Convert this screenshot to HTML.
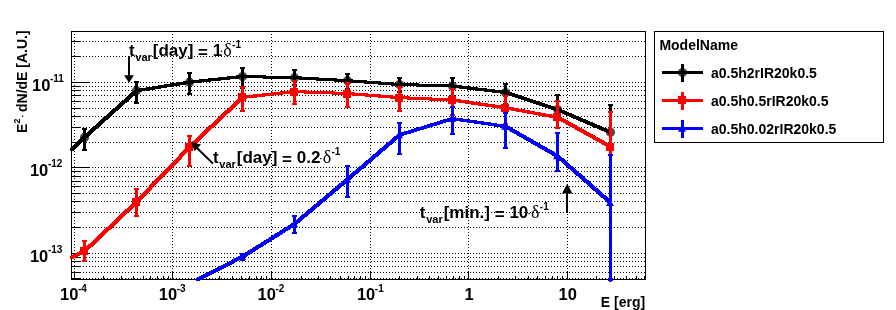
<!DOCTYPE html><html><head><meta charset="utf-8"><style>
html,body{margin:0;padding:0;background:#fff;overflow:hidden}
svg{display:block;will-change:transform;font-family:"Liberation Sans",sans-serif;font-weight:bold;fill:#000;}
.sym{font-family:"Liberation Serif",serif;font-weight:normal;}
</style></head><body>
<svg width="896" height="310" viewBox="0 0 896 310">
<rect width="896" height="310" fill="#fff"/>
<defs><clipPath id="c"><rect x="69.5" y="31.5" width="576.0" height="250.0"/></clipPath></defs>
<path d="M74.5 31.0V279.5M172.5 31.0V279.5M271.5 31.0V279.5M370.5 31.0V279.5M468.5 31.0V279.5M567.5 31.0V279.5M71.0 278.5H645.5M71.0 272.5H645.5M71.0 266.5H645.5M71.0 261.5H645.5M71.0 257.5H645.5M71.0 253.5H645.5M71.0 227.5H645.5M71.0 212.5H645.5M71.0 201.5H645.5M71.0 193.5H645.5M71.0 186.5H645.5M71.0 181.5H645.5M71.0 176.5H645.5M71.0 171.5H645.5M71.0 167.5H645.5M71.0 142.5H645.5M71.0 127.5H645.5M71.0 116.5H645.5M71.0 108.5H645.5M71.0 101.5H645.5M71.0 95.5H645.5M71.0 90.5H645.5M71.0 86.5H645.5M71.0 82.5H645.5M71.0 56.5H645.5M71.0 41.5H645.5" stroke="#000" stroke-width="1" stroke-dasharray="1 2" fill="none" shape-rendering="crispEdges"/>
<path d="M74.5 279.5v-8M103.5 279.5v-4M121.5 279.5v-4M133.5 279.5v-4M143.5 279.5v-4M150.5 279.5v-4M157.5 279.5v-4M163.5 279.5v-4M168.5 279.5v-4M172.5 279.5v-8M202.5 279.5v-4M219.5 279.5v-4M232.5 279.5v-4M241.5 279.5v-4M249.5 279.5v-4M256.5 279.5v-4M261.5 279.5v-4M266.5 279.5v-4M271.5 279.5v-8M301.5 279.5v-4M318.5 279.5v-4M330.5 279.5v-4M340.5 279.5v-4M348.5 279.5v-4M354.5 279.5v-4M360.5 279.5v-4M365.5 279.5v-4M370.5 279.5v-8M399.5 279.5v-4M417.5 279.5v-4M429.5 279.5v-4M438.5 279.5v-4M446.5 279.5v-4M453.5 279.5v-4M459.5 279.5v-4M464.5 279.5v-4M468.5 279.5v-8M498.5 279.5v-4M515.5 279.5v-4M528.5 279.5v-4M537.5 279.5v-4M545.5 279.5v-4M552.5 279.5v-4M557.5 279.5v-4M562.5 279.5v-4M567.5 279.5v-8M596.5 279.5v-4M614.5 279.5v-4M626.5 279.5v-4M636.5 279.5v-4M644.5 279.5v-4M71.0 278.5h10M71.0 272.5h10M71.0 266.5h10M71.0 261.5h10M71.0 257.5h10M71.0 253.5h19M71.0 227.5h10M71.0 212.5h10M71.0 201.5h10M71.0 193.5h10M71.0 186.5h10M71.0 181.5h10M71.0 176.5h10M71.0 171.5h10M71.0 167.5h19M71.0 142.5h10M71.0 127.5h10M71.0 116.5h10M71.0 108.5h10M71.0 101.5h10M71.0 95.5h10M71.0 90.5h10M71.0 86.5h10M71.0 82.5h19M71.0 56.5h10M71.0 41.5h10" stroke="#000" stroke-width="1" fill="none" shape-rendering="crispEdges"/>
<rect x="71.5" y="31.5" width="574.0" height="248.0" fill="none" stroke="#000" stroke-width="1" shape-rendering="crispEdges"/>
<g clip-path="url(#c)"><circle cx="84.5" cy="137.4" r="4.6" fill="#000" fill-opacity="0.7"/><circle cx="136.5" cy="90.7" r="4.6" fill="#000" fill-opacity="0.7"/><circle cx="189.5" cy="82.2" r="4.6" fill="#000" fill-opacity="0.7"/><circle cx="242.5" cy="76.5" r="4.6" fill="#000" fill-opacity="0.7"/><circle cx="294.5" cy="77.7" r="4.6" fill="#000" fill-opacity="0.7"/><circle cx="347.5" cy="80.7" r="4.6" fill="#000" fill-opacity="0.7"/><circle cx="399.5" cy="84.5" r="4.6" fill="#000" fill-opacity="0.7"/><circle cx="452.5" cy="86.0" r="4.6" fill="#000" fill-opacity="0.7"/><circle cx="505.5" cy="92.5" r="4.6" fill="#000" fill-opacity="0.7"/><circle cx="557.5" cy="109.6" r="4.6" fill="#000" fill-opacity="0.7"/><circle cx="610.5" cy="132.3" r="4.6" fill="#000" fill-opacity="0.7"/><path d="M70.0 148.3L83.0 135.9L86.0 135.9L86.0 138.9L73.0 151.3L70.0 151.3zM83.0 135.9L135.0 89.2L138.0 89.2L138.0 92.2L86.0 138.9L83.0 138.9zM135.0 89.2L188.0 80.7L191.0 80.7L191.0 83.7L138.0 92.2L135.0 92.2zM188.0 80.7L241.0 75.0L244.0 75.0L244.0 78.0L191.0 83.7L188.0 83.7zM241.0 75.0L244.0 75.0L296.0 76.2L296.0 79.2L293.0 79.2L241.0 78.0zM293.0 76.2L296.0 76.2L349.0 79.2L349.0 82.2L346.0 82.2L293.0 79.2zM346.0 79.2L349.0 79.2L401.0 83.0L401.0 86.0L398.0 86.0L346.0 82.2zM398.0 83.0L401.0 83.0L454.0 84.5L454.0 87.5L451.0 87.5L398.0 86.0zM451.0 84.5L454.0 84.5L507.0 91.0L507.0 94.0L504.0 94.0L451.0 87.5zM504.0 91.0L507.0 91.0L559.0 108.1L559.0 111.1L556.0 111.1L504.0 94.0zM556.0 108.1L559.0 108.1L612.0 130.8L612.0 133.8L609.0 133.8L556.0 111.1z" fill="#000" shape-rendering="crispEdges"/><path d="M83.0 128h3V151h-3zM82.0 128h5v2h-5zM82.0 149h5v2h-5zM135.0 81h3V104h-3zM134.0 81h5v2h-5zM134.0 102h5v2h-5zM188.0 72h3V95h-3zM187.0 72h5v2h-5zM187.0 93h5v2h-5zM241.0 67h3V89h-3zM240.0 67h5v2h-5zM240.0 87h5v2h-5zM293.0 69h3V86h-3zM292.0 69h5v2h-5zM292.0 84h5v2h-5zM346.0 73h3V90h-3zM345.0 73h5v2h-5zM345.0 88h5v2h-5zM398.0 77h3V93h-3zM397.0 77h5v2h-5zM397.0 91h5v2h-5zM451.0 77h3V97h-3zM450.0 77h5v2h-5zM450.0 95h5v2h-5zM504.0 83h3V105h-3zM503.0 83h5v2h-5zM503.0 103h5v2h-5zM556.0 94h3V119h-3zM555.0 94h5v2h-5zM555.0 117h5v2h-5zM609.0 104h3V301h-3zM608.0 104h5v2h-5zM608.0 299h5v2h-5z" fill="#000" shape-rendering="crispEdges"/></g>
<g clip-path="url(#c)"><path d="M70.0 255.8L83.0 249.7L86.0 249.7L86.0 252.7L73.0 258.8L70.0 258.8zM83.0 249.7L135.0 200.5L138.0 200.5L138.0 203.5L86.0 252.7L83.0 252.7zM135.0 200.5L188.0 145.7L191.0 145.7L191.0 148.7L138.0 203.5L135.0 203.5zM188.0 145.7L241.0 95.9L244.0 95.9L244.0 98.9L191.0 148.7L188.0 148.7zM241.0 95.9L293.0 90.1L296.0 90.1L296.0 93.1L244.0 98.9L241.0 98.9zM293.0 90.1L296.0 90.1L349.0 92.0L349.0 95.0L346.0 95.0L293.0 93.1zM346.0 92.0L349.0 92.0L401.0 96.1L401.0 99.1L398.0 99.1L346.0 95.0zM398.0 96.1L401.0 96.1L454.0 98.5L454.0 101.5L451.0 101.5L398.0 99.1zM451.0 98.5L454.0 98.5L507.0 106.3L507.0 109.3L504.0 109.3L451.0 101.5zM504.0 106.3L507.0 106.3L559.0 115.8L559.0 118.8L556.0 118.8L504.0 109.3zM556.0 115.8L559.0 115.8L612.0 145.1L612.0 148.1L609.0 148.1L556.0 118.8z" fill="#f00" shape-rendering="crispEdges"/><path d="M83.0 240h3V262h-3zM82.0 240h5v2h-5zM82.0 260h5v2h-5zM135.0 188h3V217h-3zM134.0 188h5v2h-5zM134.0 215h5v2h-5zM188.0 135h3V167h-3zM187.0 135h5v2h-5zM187.0 165h5v2h-5zM241.0 86h3V112h-3zM240.0 86h5v2h-5zM240.0 110h5v2h-5zM293.0 80h3V105h-3zM292.0 80h5v2h-5zM292.0 103h5v2h-5zM346.0 82h3V108h-3zM345.0 82h5v2h-5zM345.0 106h5v2h-5zM398.0 86h3V112h-3zM397.0 86h5v2h-5zM397.0 110h5v2h-5zM451.0 88h3V116h-3zM450.0 88h5v2h-5zM450.0 114h5v2h-5zM504.0 95h3V125h-3zM503.0 95h5v2h-5zM503.0 123h5v2h-5zM556.0 100h3V129h-3zM555.0 100h5v2h-5zM555.0 127h5v2h-5zM609.0 111h3V301h-3zM608.0 111h5v2h-5zM608.0 299h5v2h-5z" fill="#f00" shape-rendering="crispEdges"/><rect x="80.0" y="247" width="8" height="8" fill="#f00" shape-rendering="crispEdges"/><rect x="132.0" y="198" width="8" height="8" fill="#f00" shape-rendering="crispEdges"/><rect x="185.0" y="143" width="8" height="8" fill="#f00" shape-rendering="crispEdges"/><rect x="238.0" y="93" width="8" height="8" fill="#f00" shape-rendering="crispEdges"/><rect x="290.0" y="88" width="8" height="8" fill="#f00" shape-rendering="crispEdges"/><rect x="343.0" y="90" width="8" height="8" fill="#f00" shape-rendering="crispEdges"/><rect x="395.0" y="94" width="8" height="8" fill="#f00" shape-rendering="crispEdges"/><rect x="448.0" y="96" width="8" height="8" fill="#f00" shape-rendering="crispEdges"/><rect x="501.0" y="104" width="8" height="8" fill="#f00" shape-rendering="crispEdges"/><rect x="553.0" y="113" width="8" height="8" fill="#f00" shape-rendering="crispEdges"/><rect x="606.0" y="143" width="8" height="8" fill="#f00" shape-rendering="crispEdges"/></g>
<g clip-path="url(#c)"><path d="M238.0 260.0h8l-4 -7z" fill="#00f"/><path d="M290.0 227.3h8l-4 -7z" fill="#00f"/><path d="M343.0 182.7h8l-4 -7z" fill="#00f"/><path d="M395.0 138.3h8l-4 -7z" fill="#00f"/><path d="M448.0 122.0h8l-4 -7z" fill="#00f"/><path d="M501.0 129.7h8l-4 -7z" fill="#00f"/><path d="M553.0 159.3h8l-4 -7z" fill="#00f"/><path d="M606.0 206.0h8l-4 -7z" fill="#00f"/><path d="M196.0 278.0L241.0 255.2L244.0 255.2L244.0 258.2L199.0 281.0L196.0 281.0zM241.0 255.2L293.0 222.5L296.0 222.5L296.0 225.5L244.0 258.2L241.0 258.2zM293.0 222.5L346.0 177.9L349.0 177.9L349.0 180.9L296.0 225.5L293.0 225.5zM346.0 177.9L398.0 133.5L401.0 133.5L401.0 136.5L349.0 180.9L346.0 180.9zM398.0 133.5L451.0 117.2L454.0 117.2L454.0 120.2L401.0 136.5L398.0 136.5zM451.0 117.2L454.0 117.2L507.0 124.9L507.0 127.9L504.0 127.9L451.0 120.2zM504.0 124.9L507.0 124.9L559.0 154.5L559.0 157.5L556.0 157.5L504.0 127.9zM556.0 154.5L559.0 154.5L612.0 201.2L612.0 204.2L609.0 204.2L556.0 157.5z" fill="#00f" shape-rendering="crispEdges"/><path d="M241.0 253h3V261h-3zM240.0 253h5v2h-5zM240.0 259h5v2h-5zM293.0 215h3V234h-3zM292.0 215h5v2h-5zM292.0 232h5v2h-5zM346.0 165h3V198h-3zM345.0 165h5v2h-5zM345.0 196h5v2h-5zM398.0 122h3V155h-3zM397.0 122h5v2h-5zM397.0 153h5v2h-5zM451.0 106h3V135h-3zM450.0 106h5v2h-5zM450.0 133h5v2h-5zM504.0 112h3V149h-3zM503.0 112h5v2h-5zM503.0 147h5v2h-5zM556.0 132h3V172h-3zM555.0 132h5v2h-5zM555.0 170h5v2h-5zM609.0 154h3V301h-3zM608.0 154h5v2h-5zM608.0 299h5v2h-5z" fill="#00f" shape-rendering="crispEdges"/></g>
<rect x="608" y="278" width="5" height="2.5" fill="#00f" shape-rendering="crispEdges"/>
<path d="M129 56V77" stroke="#000" stroke-width="2" shape-rendering="crispEdges"/><path d="M124 75.2h10l-5 7.6z"/>
<path d="M567.2 212.5V192" stroke="#000" stroke-width="2" shape-rendering="crispEdges"/><path d="M562 193.4h10.4l-5.2 -9.6z"/>
<path d="M213 163.6L195 146" stroke="#000" stroke-width="2"/><path d="M191.2 142l9.8 2.4l-6.6 6.8z"/>
<text x="128.9" y="56.0" font-size="17">t</text><text x="135.3" y="60.6" font-size="11">var</text><text x="152.8" y="56.0" font-size="17">[day]</text><text x="198.1" y="57.5" font-size="17">=</text><text x="212.8" y="56.0" font-size="17">1</text><circle cx="221.5" cy="51.2" r="0.8"/><text class="sym" x="223.3" y="56.0" font-size="18">δ</text><text x="232.1" y="47.5" font-size="10">-1</text>
<text x="212.9" y="163.4" font-size="17">t</text><text x="219.3" y="168.0" font-size="11">var</text><text x="236.8" y="163.4" font-size="17">[day]</text><text x="282.1" y="164.9" font-size="17">=</text><text x="296.8" y="163.4" font-size="17">0.2</text><circle cx="320.9" cy="158.6" r="0.8"/><text class="sym" x="322.7" y="163.4" font-size="18">δ</text><text x="331.5" y="154.9" font-size="10">-1</text>
<text x="419.8" y="218.4" font-size="17">t</text><text x="426.2" y="223.0" font-size="11">var</text><text x="443.7" y="218.4" font-size="17">[min.]</text><text x="494.7" y="219.9" font-size="17">=</text><text x="509.4" y="218.4" font-size="17">10</text><circle cx="529.2" cy="213.6" r="0.8"/><text class="sym" x="531.0" y="218.4" font-size="18">δ</text><text x="539.8" y="209.9" font-size="10">-1</text>
<text x="60.1" y="300.1" font-size="16.5">10</text><text x="78.0" y="291.7" font-size="10">-4</text>
<text x="158.8" y="300.1" font-size="16.5">10</text><text x="176.7" y="291.7" font-size="10">-3</text>
<text x="257.5" y="300.1" font-size="16.5">10</text><text x="275.4" y="291.7" font-size="10">-2</text>
<text x="356.9" y="300.1" font-size="16.5">10</text><text x="374.8" y="291.7" font-size="10">-1</text>
<text x="469.2" y="300.1" font-size="16.5" text-anchor="middle">1</text>
<text x="567.8" y="300.1" font-size="16.5" text-anchor="middle">10</text>
<text x="32.0" y="90.5" font-size="16.5">10</text><text x="50.0" y="81.8" font-size="10">-11</text>
<text x="29.9" y="175.5" font-size="16.5">10</text><text x="47.9" y="166.8" font-size="10">-12</text>
<text x="29.9" y="261.5" font-size="16.5">10</text><text x="47.9" y="252.8" font-size="10">-13</text>
<text x="645.2" y="306.6" font-size="14" text-anchor="end">E [erg]</text>
<g transform="translate(26.8,133) rotate(-90)"><text x="0" y="0" font-size="14">E</text><text x="9.5" y="-7" font-size="9">2</text><text x="15.5" y="-1" font-size="9">·</text><text x="21" y="0" font-size="14">dN/dE [A.U.]</text></g>
<rect x="654.5" y="31.5" width="229" height="110.5" fill="#fff" stroke="#000" stroke-width="1" shape-rendering="crispEdges"/>
<text x="659.4" y="49.9" font-size="14">ModelName</text>
<circle cx="682.5" cy="72.5" r="4.6" fill="#000" fill-opacity="0.7"/>
<path d="M662 72.5H703M682.5 64.0V82.0" stroke="#000" stroke-width="3" fill="none" shape-rendering="crispEdges"/>
<text x="711" y="78.1" font-size="14">a0.5h2rIR20k0.5</text>
<path d="M662 100.5H703M682.5 92.0V110.0" stroke="#f00" stroke-width="3" fill="none" shape-rendering="crispEdges"/>
<rect x="678.0" y="96" width="8" height="8" fill="#f00" shape-rendering="crispEdges"/>
<text x="711" y="106.1" font-size="14">a0.5h0.5rIR20k0.5</text>
<path d="M678.0 131.8h8l-4 -7z" fill="#00f"/>
<path d="M662 128.5H703M682.5 120.0V138.0" stroke="#00f" stroke-width="3" fill="none" shape-rendering="crispEdges"/>
<text x="711" y="134.1" font-size="14">a0.5h0.02rIR20k0.5</text>
</svg></body></html>
